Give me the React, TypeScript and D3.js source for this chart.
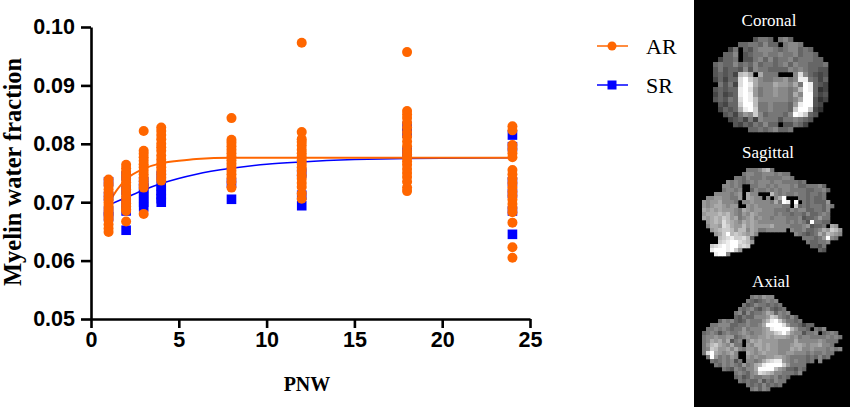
import { useEffect, useRef } from 'react';
import * as d3 from 'd3';

const xTicks = [0, 5, 10, 15, 20, 25];
const yTicks = [0.05, 0.06, 0.07, 0.08, 0.09, 0.1];

// [PNW, myelin water fraction]
const arPoints: [number, number][] = [
  ...[0.0739, 0.0733, 0.0728, 0.0722, 0.0716, 0.071, 0.0705, 0.07, 0.0695, 0.069, 0.0685, 0.068, 0.0675, 0.067, 0.0662, 0.0655, 0.0649].map(v => [1, v] as [number, number]),
  ...[0.0764, 0.0758, 0.0752, 0.0746, 0.074, 0.0734, 0.0728, 0.0722, 0.0716, 0.071, 0.0704, 0.0698, 0.0693, 0.0688, 0.0685, 0.0667].map(v => [2, v] as [number, number]),
  ...[0.0822, 0.0788, 0.0783, 0.0777, 0.0771, 0.0765, 0.076, 0.0754, 0.0748, 0.0742, 0.0736, 0.073, 0.0725, 0.068].map(v => [3, v] as [number, number]),
  ...[0.0828, 0.0822, 0.0815, 0.0808, 0.08, 0.0794, 0.0788, 0.078, 0.0773, 0.0766, 0.076, 0.0754, 0.0748, 0.0742, 0.0737].map(v => [4, v] as [number, number]),
  ...[0.0844, 0.0807, 0.0802, 0.0796, 0.079, 0.0784, 0.0778, 0.0772, 0.0766, 0.076, 0.0754, 0.0748, 0.0742, 0.0735, 0.0725].map(v => [8, v] as [number, number]),
  ...[0.0973, 0.082, 0.0808, 0.0803, 0.0797, 0.079, 0.0784, 0.0778, 0.0772, 0.0766, 0.076, 0.0754, 0.0746, 0.074, 0.0733, 0.0726, 0.0715, 0.0706].map(v => [12, v] as [number, number]),
  ...[0.0957, 0.0856, 0.085, 0.0844, 0.0836, 0.0828, 0.082, 0.0812, 0.0804, 0.0796, 0.0788, 0.0782, 0.0776, 0.077, 0.0764, 0.0757, 0.075, 0.0743, 0.0735, 0.0725, 0.0719].map(v => [18, v] as [number, number]),
  ...[0.083, 0.0823, 0.0798, 0.0791, 0.0784, 0.0777, 0.0755, 0.0748, 0.074, 0.0733, 0.0725, 0.0718, 0.0711, 0.0704, 0.0697, 0.069, 0.0683, 0.0665, 0.0623, 0.0605].map(v => [24, v] as [number, number]),
];

const srPoints: [number, number][] = [
  ...[0.0735, 0.071, 0.0685, 0.0675].map(v => [1, v] as [number, number]),
  ...[0.0745, 0.072, 0.07, 0.0685, 0.0652].map(v => [2, v] as [number, number]),
  ...[0.0735, 0.0724, 0.0716, 0.0708, 0.07, 0.0692].map(v => [3, v] as [number, number]),
  ...[0.0745, 0.0728, 0.072, 0.0713, 0.0706, 0.07].map(v => [4, v] as [number, number]),
  [8, 0.0733], [8, 0.0705],
  [12, 0.075], [12, 0.0712], [12, 0.0694],
  [18, 0.083], [18, 0.0818], [18, 0.0786],
  [24, 0.0815], [24, 0.0795], [24, 0.0735], [24, 0.0715], [24, 0.0685], [24, 0.0645],
];

// fitted curves
const arCurve: [number, number][] = [[1, 0.0698], [1.5, 0.0722], [2, 0.0739], [3, 0.0757], [4, 0.0767], [5, 0.0771], [6, 0.0774], [8, 0.0776], [12, 0.0776], [24, 0.0776]];
const srCurve: [number, number][] = [[1, 0.0695], [2, 0.0708], [3, 0.0721], [4, 0.0732], [6, 0.0748], [8, 0.0758], [10, 0.0765], [12, 0.0769], [15, 0.0773], [18, 0.0775], [24, 0.0776]];

// grey level per voxel, 0-f, '.' is background
const coronal = [
  '........57760786.......',
  '.....6677686607887.....',
  '...47065788876788676...',
  '..6680567787787786776..',
  '.466705578686778677766.',
  '67668676867767868776667',
  '57566585877666687876655',
  '56564bca0a7770008d86545',
  '46466dfca87788978ee7646',
  '07574dfea888a998a7fe654',
  '56566efd978898878bfe634',
  '46456efe97889887a8ff645',
  '56576dfeb88888878aff534',
  '.5466cffb77877769eff54.',
  '.4656aefc7787776cffc43.',
  '..564798c8677768fec65..',
  '...45647487775778765...',
  '....546576866055764....',
  '.......667678667.......',
];

const sagittal = [
  '...........7778ab7.................',
  '..........788778887877.............',
  '........776877787777887............',
  '......87876787888788777767.........',
  '.....88787007788787888786677786....',
  '.....788780068778787887777667786...',
  '...88887890a88000b8787787767767....',
  '.8899887790a9880808af0007767667....',
  '9899a8887088988887a7fe0f07676669...',
  '989aa989900989888888770c676777687..',
  'a9a9a99987a989988877768788667768...',
  '9aaabab98798a9888878776776866787...',
  'a9abacb9a789a8988788877785667977...',
  '.9abadba98a9a98888888787875f7766...',
  '.8aa9dca99b9a9999a88887778956670a9.',
  '..9abccb9bb8a97788888.87786678a9cb9',
  '...9acfbcba9a8.........876567a8ba98',
  '....bcdeccdb6............777679f87.',
  '....cdeffdcb9.............766778...',
  '..cdefeffcdc...............6657....',
  '..efffefc9...................65....',
  '...eff8............................',
];

const axial = [
  '............787988.................',
  '...........76567878................',
  '..........7568776767...............',
  '.........767865786567..............',
  '........78586778a96878.............',
  '........657668889cb87686...........',
  '....687865687779befc97767..........',
  '..7788866778778affffd9776466.......',
  '.778787677978889aeffffb97760768....',
  '6787578778987889aacdfc988577806787.',
  '7889889967898899a9aaa98978877778787',
  '78a9a8a57808a9a99998888a88888987770',
  '79bca98a77098aa9a998889aa9899a88700',
  '78cb99a8a87998a9a99888a9a8898887878',
  '7dfa989a800a989a99988998887877877..',
  '.7f978798009898899aa987777676867...',
  '..7678785708878acdee98787767.8.....',
  '...7687876978abeffffc97777.........',
  '.....76587688affffb9866576.........',
  '........787689dcba8877768..........',
  '........67568778878676.............',
  '.........767668576877..............',
  '...........767686767...............',
  '............78687..................',
];

const mriPanels = [
  { label: 'Coronal', rows: coronal, left: 713, top: 37, cell: 5, textX: 769, textY: 26 },
  { label: 'Sagittal', rows: sagittal, left: 702, top: 168, cell: 4, textX: 768, textY: 158 },
  { label: 'Axial', rows: axial, left: 702, top: 295, cell: 4, textX: 771, textY: 287 },
];

const ORANGE = '#ff6600';
const BLUE = '#0000ff';
const SANS = '"Liberation Sans", Arial, sans-serif';
const SERIF = '"Liberation Serif", "Times New Roman", serif';

const App = () => {
  const xAxisRef = useRef<SVGGElement>(null);
  const yAxisRef = useRef<SVGGElement>(null);

  const x = d3.scaleLinear().domain([0, 25]).range([91, 530]);
  const y = d3.scaleLinear().domain([0.05, 0.1]).range([319, 27]);

  const line = d3.line<[number, number]>()
    .x(d => x(d[0]))
    .y(d => y(d[1]))
    .curve(d3.curveMonotoneX);

  useEffect(() => {
    const style = (g: d3.Selection<SVGGElement, unknown, null, undefined>) => {
      g.selectAll('path, line').attr('stroke', '#000').attr('stroke-width', 2.6);
      g.selectAll('text')
        .attr('fill', '#000')
        .style('font-family', SANS)
        .style('font-weight', 700)
        .style('font-size', '21.5px');
    };
    if (xAxisRef.current) {
      d3.select(xAxisRef.current)
        .call(d3.axisBottom(x).tickValues(xTicks).tickFormat(d3.format('d')).tickSize(9).tickSizeOuter(0).tickPadding(4))
        .call(style);
    }
    if (yAxisRef.current) {
      d3.select(yAxisRef.current)
        .call(d3.axisLeft(y).tickValues(yTicks).tickFormat(d3.format('.2f')).tickSize(10).tickSizeOuter(0).tickPadding(6))
        .call(style);
    }
  }, []);

  return (
    <svg
      width={850}
      height={407}
      style={{ position: 'absolute', left: 0, top: 0, background: '#fff' }}
    >
      <defs>
        <filter id="soft" x="-5%" y="-5%" width="110%" height="110%">
          <feGaussianBlur stdDeviation="0.45" />
        </filter>
      </defs>

      <path d={line(srCurve) || ''} fill="none" stroke={BLUE} strokeWidth={1.5} />
      <path d={line(arCurve) || ''} fill="none" stroke={ORANGE} strokeWidth={1.9} />

      {srPoints.map((d, i) => (
        <rect key={i} x={x(d[0]) - 4.8} y={y(d[1]) - 4.8} width={9.6} height={9.6} fill={BLUE} />
      ))}
      {arPoints.map((d, i) => (
        <circle key={i} cx={x(d[0])} cy={y(d[1])} r={5} fill={ORANGE} />
      ))}

      <g ref={xAxisRef} transform={`translate(0,${y(0.05)})`} />
      <g ref={yAxisRef} transform={`translate(${x(0)},0)`} />

      <text x={307} y={391} textAnchor="middle" fontFamily={SERIF} fontWeight={700} fontSize={20}>PNW</text>
      <text
        transform="translate(21,172) rotate(-90)"
        textAnchor="middle"
        fontFamily={SERIF}
        fontWeight={700}
        fontSize={24.5}
      >
        Myelin water fraction
      </text>

      <line x1={597} x2={628} y1={46} y2={46} stroke={ORANGE} strokeWidth={1.5} />
      <circle cx={612} cy={46} r={4.5} fill={ORANGE} />
      <text x={646} y={54} fontFamily={SERIF} fontSize={22}>AR</text>
      <line x1={597} x2={628} y1={85} y2={85} stroke={BLUE} strokeWidth={1.5} />
      <rect x={607.5} y={80.5} width={9} height={9} fill={BLUE} />
      <text x={646} y={93} fontFamily={SERIF} fontSize={22}>SR</text>

      <rect x={694} y={0} width={156} height={407} fill="#000" />
      {mriPanels.map(panel => (
        <g key={panel.label}>
          <g filter="url(#soft)">
            {panel.rows.flatMap((row, r) =>
              Array.from(row).map((ch, c) => {
                const level = parseInt(ch, 16);
                if (Number.isNaN(level) || level === 0) return null;
                const grey = level * 17;
                return (
                  <rect
                    key={`${r}-${c}`}
                    x={panel.left + c * panel.cell}
                    y={panel.top + r * panel.cell}
                    width={panel.cell + 0.3}
                    height={panel.cell + 0.3}
                    fill={`rgb(${grey},${grey},${grey})`}
                  />
                );
              })
            )}
          </g>
          <text x={panel.textX} y={panel.textY} textAnchor="middle" fill="#fff" fontFamily={SERIF} fontSize={17}>
            {panel.label}
          </text>
        </g>
      ))}
    </svg>
  );
};

export default App;
